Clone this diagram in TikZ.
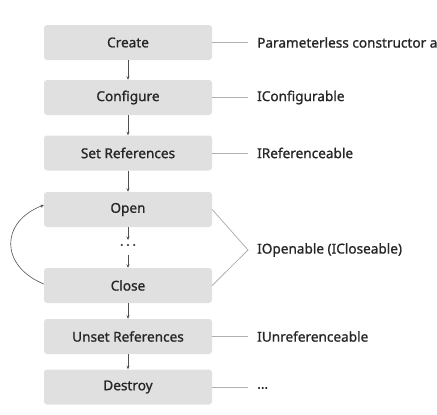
\documentclass[tikz,border=0pt]{standalone}
\usepackage{fontspec}
\setmainfont[FakeBold=1.0]{Noto Sans}
\usetikzlibrary{arrows.meta}
\definecolor{boxfill}{HTML}{E0E0E0}
\definecolor{txt}{HTML}{262626}
\definecolor{lnk}{HTML}{B0B0B0}
\definecolor{arr}{HTML}{505050}
\begin{document}
\begin{tikzpicture}[x=1pt,y=-1pt,
  stagebox/.style={fill=boxfill,rounded corners=3pt,minimum width=168pt,minimum height=35pt,inner sep=0pt,font=\fontsize{13.6}{15}\bfseries,text=txt},
  lbl/.style={anchor=west,inner sep=0pt,font=\fontsize{13.6}{15}\bfseries,text=txt},
  flow/.style={draw=arr,line width=0.6pt,-{Stealth[length=3.5pt,width=3pt]}},
  link/.style={draw=lnk,line width=0.8pt}]
\useasboundingbox (0,0) rectangle (437,415);
\node[stagebox] (create) at (128,42.5) {Create};
\node[stagebox] (config) at (128,97.5) {Configure};
\node[stagebox] (setref) at (128,153) {Set References};
\node[stagebox] (open) at (128,209.5) {Open};
\node[stagebox] (close) at (128,285.5) {Close};
\node[stagebox] (unset) at (128,336.5) {Unset References};
\node[stagebox] (destroy) at (128,387) {Destroy};
\node[inner sep=0pt,text=arr,font=\fontsize{14}{15}\bfseries] (dots) at (128,247) {·\hspace{2.5pt}·\hspace{2.5pt}·};
\node[lbl] (l1) at (257,42.5) {Parameterless constructor and};
\node[lbl] (l2) at (257,97.5) {IConfigurable};
\node[lbl] (l3) at (257,153) {IReferenceable};
\node[lbl] (l4) at (257,250) {IOpenable (ICloseable)};
\node[lbl] (l5) at (257,336.5) {IUnreferenceable};
\node[lbl] (l6) at (257,388) {...};
\draw[flow] (create) -- (config);
\draw[flow] (config) -- (setref);
\draw[flow] (setref) -- (open);
\draw[flow] (open) -- (128,240);
\draw[flow] (128,255) -- (close);
\draw[flow] (close) -- (unset);
\draw[flow] (unset) -- (destroy);
\draw[flow] (close.west |- 0,284) .. controls (0,266) and (0,222) .. (open.west |- 0,205);
\draw[link] (create.east) -- ([xshift=-9pt]l1.west);
\draw[link] (config.east) -- ([xshift=-9pt]l2.west);
\draw[link] (setref.east) -- ([xshift=-9pt]l3.west);
\draw[link] (open.east) -- ([xshift=-9pt]l4.west) -- (close.east);
\draw[link] (unset.east) -- ([xshift=-9pt]l5.west);
\draw[link] (destroy.east) -- (248,387);
\end{tikzpicture}
\end{document}
